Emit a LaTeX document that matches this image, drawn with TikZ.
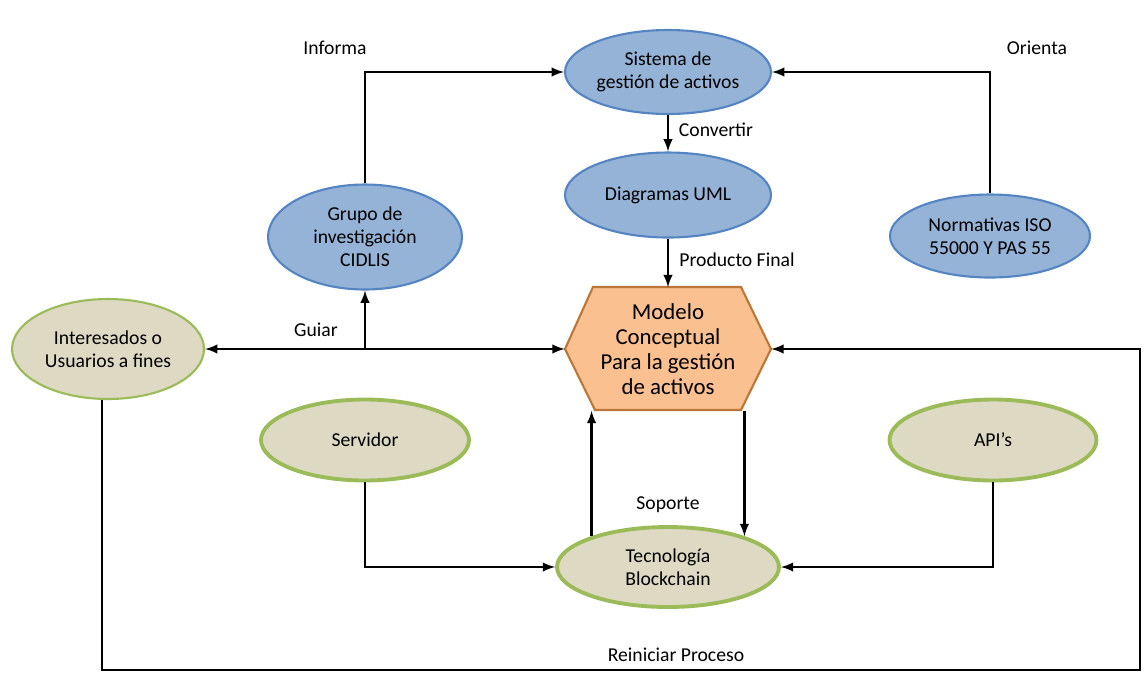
\documentclass[tikz,border=0pt]{standalone}
\usepackage{fontspec}
\setmainfont{Carlito}
\usetikzlibrary{shapes.geometric}

\definecolor{azul}{RGB}{149,179,215}
\definecolor{bordeazul}{RGB}{84,133,194}
\definecolor{naranja}{RGB}{250,192,144}
\definecolor{bordenaranja}{RGB}{188,118,56}
\definecolor{beige}{RGB}{221,217,195}
\definecolor{verde}{RGB}{155,187,89}

\begin{document}
\begin{tikzpicture}[x=0.02cm,y=-0.02cm,>=latex,
  flow/.style={->,line width=1.4pt},
  etiqueta/.style={font=\fontsize{11.2}{13}\selectfont},
  azulnode/.style={ellipse,draw=bordeazul,fill=azul,line width=1.2pt,align=center,font=\fontsize{11.2}{13}\selectfont,inner sep=0pt},
  beigenode/.style={ellipse,draw=verde,fill=beige,line width=2.2pt,align=center,font=\fontsize{11.2}{13}\selectfont,inner sep=0pt}]
  \useasboundingbox (0,0) rectangle (1146,698);

  % nodos superiores
  \node[azulnode,minimum width=4.12cm,minimum height=1.68cm] (sga) at (668,72) {Sistema de\\gestión de activos};
  \node[azulnode,minimum width=4.12cm,minimum height=1.70cm] (uml) at (668,195) {Diagramas UML};
  \node[azulnode,minimum width=3.88cm,minimum height=2.10cm] (cidlis) at (365,237) {Grupo de\\investigación\\CIDLIS};
  \node[azulnode,minimum width=4.00cm,minimum height=1.66cm] (iso) at (990,236) {Normativas ISO\\55000 Y PAS 55};

  % modelo conceptual
  \filldraw[fill=naranja,draw=bordenaranja,line width=1.2pt] (565,349) -- (593,287) -- (741,287) -- (771,349) -- (741,410) -- (595,410) -- cycle;
  \node[minimum width=4.12cm,minimum height=2.46cm,align=center,font=\fontsize{13}{14.3}\selectfont] (modelo) at (668,349) {Modelo\\Conceptual\\Para la gestión\\de activos};

  % nodos inferiores
  \node[beigenode,line width=1.2pt,minimum width=3.84cm,minimum height=2.0cm] (users) at (108,349) {Interesados o\\Usuarios a fines};
  \node[beigenode,minimum width=4.16cm,minimum height=1.62cm] (serv) at (365,440) {Servidor};
  \node[beigenode,minimum width=4.14cm,minimum height=1.62cm] (api) at (993,440) {API’s};
  \node[beigenode,minimum width=4.44cm,minimum height=1.60cm] (tec) at (668,567) {Tecnología\\Blockchain};

  % conexiones
  \draw[flow] (cidlis.north) |- (sga.west);
  \draw[flow] (iso.north) |- (sga.east);
  \draw[flow] (sga) -- (uml);
  \draw[flow] (uml) -- (modelo.north);
  \draw[flow,<->] (users) -- (modelo.west);
  \coordinate (guiar) at (365,349);
  \draw[flow] (guiar) -- (cidlis);
  \coordinate (vuelta) at (1140,670);
  \draw[flow] (users.263) |- (vuelta) |- (modelo.east);
  \draw[flow] (serv.south) |- (tec.west);
  \draw[flow] (api.south) |- (tec.east);
  \draw[flow] (tec.158) -- (tec.158 |- modelo.south);
  \draw[flow] (tec.22 |- modelo.south) -- (tec.22);

  % etiquetas
  \node[etiqueta] (informa) at (335,48) {Informa};
  \node[etiqueta] (orienta) at (1037,48) {Orienta};
  \node[etiqueta] (convertir) at (716,130) {Convertir};
  \node[etiqueta] (producto) at (737,260) {Producto Final};
  \node[etiqueta] (guiarlbl) at (316,330) {Guiar};
  \node[etiqueta] (soporte) at (668,505) {Soporte};
  \node[etiqueta] (reiniciar) at (676,655) {Reiniciar Proceso};
\end{tikzpicture}
\end{document}
